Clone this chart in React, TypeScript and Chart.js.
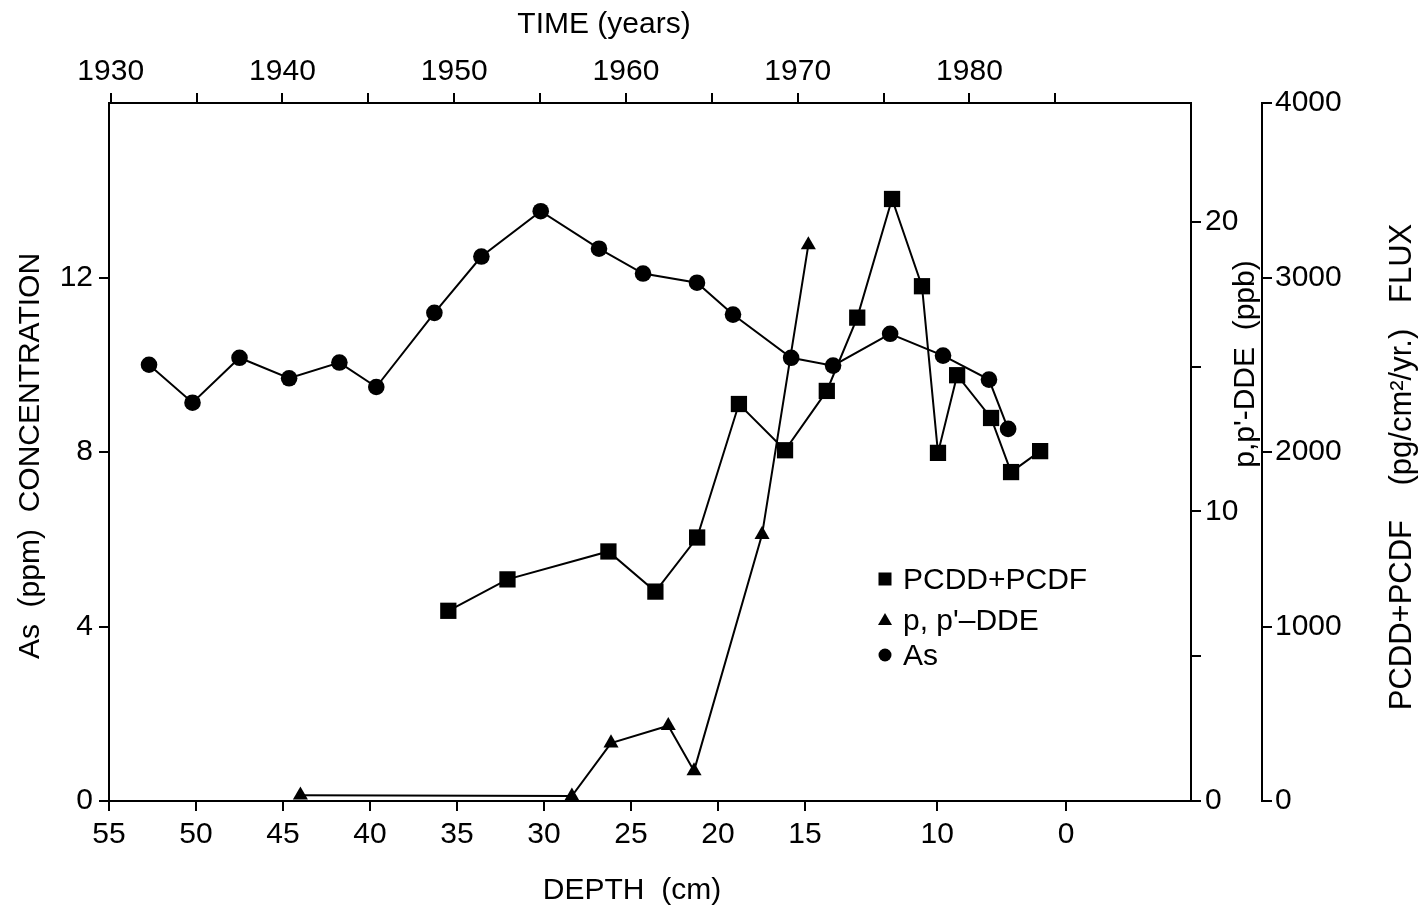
import { useEffect, useRef } from 'react';
import { Chart, registerables } from 'chart.js';

Chart.register(...registerables);

const FONT = '"Liberation Sans", Arial, Helvetica, sans-serif';

// PCDD+PCDF flux (pg/cm²/yr) against depth (cm)
const PCDD_DEPTH = [35.5, 32.1, 26.3, 23.6, 21.2, 18.8, 16.15, 13.75, 12.0, 10.0, 8.28, 7.36, 6.26, 4.31, 3.16, 1.49];
const PCDD_FLUX = [1090, 1270, 1430, 1200, 1510, 2275, 2010, 2350, 2770, 3450, 2950, 1995, 2440, 2195, 1885, 2005];

// p,p'-DDE (ppb) against depth (cm)
const DDE_DEPTH = [44.0, 28.4, 26.15, 22.86, 21.38, 17.47, 14.81];
const DDE_PPB = [0.2, 0.17, 2.0, 2.6, 1.04, 9.2, 19.2];

// As (ppm) against depth (cm)
const AS_DEPTH = [52.7, 50.2, 47.5, 44.65, 41.76, 39.64, 36.3, 33.6, 30.19, 26.84, 24.31, 21.21, 19.14, 15.8, 13.39, 10.11, 7.07, 4.43, 3.33];
const AS_PPM = [10.0, 9.13, 10.16, 9.69, 10.05, 9.49, 11.19, 12.48, 13.52, 12.66, 12.09, 11.88, 11.15, 10.16, 9.98, 10.71, 10.21, 9.66, 8.53];

// Axis ticks
const DEPTH_TICKS = [55, 50, 45, 40, 35, 30, 25, 20, 15, 7.4, 0];
const DEPTH_TICK_LABELS = ['55', '50', '45', '40', '35', '30', '25', '20', '15', '10', '0'];
const YEAR_TICKS = [1930, 1935, 1940, 1945, 1950, 1955, 1960, 1965, 1970, 1975, 1980, 1985];
const YEAR_TICK_LABELS = ['1930', '', '1940', '', '1950', '', '1960', '', '1970', '', '1980', ''];
const AS_TICKS = [0, 4, 8, 12];
const DDE_TICKS = [0, 5, 10, 15, 20];
const DDE_TICK_LABELS = ['0', '', '10', '', '20'];
const FLUX_TICKS = [0, 1000, 2000, 3000, 4000];

const TIME_TITLE = 'TIME (years)';
const DEPTH_TITLE = 'DEPTH  (cm)';
const AS_TITLE = 'As  (ppm)  CONCENTRATION';
const DDE_TITLE = "p,p'-DDE  (ppb)";
const FLUX_TITLE = 'PCDD+PCDF    (pg/cm²/yr.)   FLUX';

const SERIES_LABELS = ['PCDD+PCDF', "p, p'–DDE", 'As'];

const overlay = {
  id: 'overlay',
  afterDraw(chart: any) {
    const { ctx, chartArea: a } = chart;
    ctx.save();
    ctx.fillStyle = '#000';
    ctx.font = `30px ${FONT}`;
    ctx.textAlign = 'center';
    ctx.textBaseline = 'middle';
    ctx.fillText(TIME_TITLE, 604, 25);
    ctx.fillText(DEPTH_TITLE, 632, 891);
    const vt = (t: string, x: number, y: number) => {
      ctx.save();
      ctx.translate(x, y);
      ctx.rotate(-Math.PI / 2);
      ctx.fillText(t, 0, 0);
      ctx.restore();
    };
    vt(AS_TITLE, 31, 456);
    vt(DDE_TITLE, a.right + 55, 364);
    ctx.font = `31px ${FONT}`;
    vt(FLUX_TITLE, a.right + 211, 467);

    // legend
    const lx = 885;
    const rows = [579, 620, 655];
    ctx.textAlign = 'left';
    ctx.font = `30px ${FONT}`;
    rows.forEach((y, i) => {
      ctx.beginPath();
      if (i === 0) {
        ctx.rect(lx - 6.5, y - 6.5, 13, 13);
      } else if (i === 1) {
        ctx.moveTo(lx, y - 7);
        ctx.lineTo(lx + 7, y + 5);
        ctx.lineTo(lx - 7, y + 5);
        ctx.closePath();
      } else {
        ctx.arc(lx, y, 6.5, 0, Math.PI * 2);
      }
      ctx.fill();
      ctx.fillText(SERIES_LABELS[i], 903, y + 2);
    });
    ctx.restore();
  },
};

const axisBase = (tickLen: number) => ({
  grid: { display: true, drawOnChartArea: false, drawTicks: true, tickLength: tickLen, color: '#000', lineWidth: 2 },
  border: { display: true, color: '#000', width: 2 },
});

export default function App() {
  const ref = useRef<HTMLCanvasElement | null>(null);

  useEffect(() => {
    if (!ref.current) return;
    const pts = (xs: number[], ys: number[]) => xs.map((x, i) => ({ x, y: ys[i] }));
    const common = {
      borderColor: '#000',
      backgroundColor: '#000',
      pointBackgroundColor: '#000',
      pointBorderColor: '#000',
      pointBorderWidth: 0,
      borderWidth: 2,
      tension: 0,
      fill: false,
      showLine: true,
      clip: false as any,
    };
    const chart = new Chart(ref.current, {
      type: 'line',
      data: {
        datasets: [
          { ...common, label: SERIES_LABELS[0], data: pts(PCDD_DEPTH, PCDD_FLUX), xAxisID: 'x', yAxisID: 'yFlux', pointStyle: 'rect', pointRadius: 11.5 },
          { ...common, label: SERIES_LABELS[1], data: pts(DDE_DEPTH, DDE_PPB), xAxisID: 'x', yAxisID: 'yDde', pointStyle: 'triangle', pointRadius: 8.7 },
          { ...common, label: SERIES_LABELS[2], data: pts(AS_DEPTH, AS_PPM), xAxisID: 'x', yAxisID: 'y', pointStyle: 'circle', pointRadius: 8.3 },
        ],
      },
      options: {
        animation: false,
        responsive: false,
        devicePixelRatio: 1,
        layout: { padding: 0 },
        plugins: { legend: { display: false }, tooltip: { enabled: false }, title: { display: false } },
        scales: {
          x: {
            type: 'linear',
            position: 'bottom',
            reverse: true,
            min: -7.18,
            max: 55,
            ...axisBase(10),
            afterBuildTicks: (s: any) => { s.ticks = DEPTH_TICKS.map((v) => ({ value: v })); },
            afterFit: (s: any) => { s.height = 109; },
            ticks: {
              autoSkip: false, maxRotation: 0, minRotation: 0, padding: 6, color: '#000',
              font: { family: FONT, size: 30 },
              callback: (v: any) => DEPTH_TICK_LABELS[DEPTH_TICKS.indexOf(Number(v))] ?? '',
            },
          },
          xTime: {
            type: 'linear',
            position: 'top',
            min: 1929.9,
            max: 1992.9,
            ...axisBase(10),
            afterBuildTicks: (s: any) => { s.ticks = YEAR_TICKS.map((v) => ({ value: v })); },
            afterFit: (s: any) => { s.height = 103; },
            ticks: {
              autoSkip: false, maxRotation: 0, minRotation: 0, padding: 3, color: '#000',
              font: { family: FONT, size: 30 },
              callback: (v: any) => YEAR_TICK_LABELS[YEAR_TICKS.indexOf(Number(v))] ?? '',
            },
          },
          y: {
            type: 'linear',
            position: 'left',
            min: 0,
            max: 16,
            ...axisBase(10),
            afterBuildTicks: (s: any) => { s.ticks = AS_TICKS.map((v) => ({ value: v })); },
            afterFit: (s: any) => { s.width = 109; },
            ticks: {
              autoSkip: false, padding: 6, color: '#000',
              font: { family: FONT, size: 30 },
              callback: (v: any) => String(v),
            },
          },
          yDde: {
            type: 'linear',
            position: 'right',
            weight: 0,
            min: 0,
            max: 24.1,
            ...axisBase(10),
            afterBuildTicks: (s: any) => { s.ticks = DDE_TICKS.map((v) => ({ value: v })); },
            afterFit: (s: any) => { s.width = 71; },
            ticks: {
              autoSkip: false, padding: 4, color: '#000',
              font: { family: FONT, size: 30 },
              callback: (v: any) => DDE_TICK_LABELS[DDE_TICKS.indexOf(Number(v))] ?? '',
            },
          },
          yFlux: {
            type: 'linear',
            position: 'right',
            weight: 1,
            min: 0,
            max: 4000,
            ...axisBase(10),
            afterBuildTicks: (s: any) => { s.ticks = FLUX_TICKS.map((v) => ({ value: v })); },
            afterFit: (s: any) => { s.width = 164; },
            ticks: {
              autoSkip: false, padding: 3, color: '#000',
              font: { family: FONT, size: 30 },
              callback: (v: any) => String(v),
            },
          },
        },
      } as any,
      plugins: [overlay],
    });
    return () => chart.destroy();
  }, []);

  return (
    <div style={{ position: 'absolute', left: 0, top: 0, width: 1426, height: 910, background: '#fff' }}>
      <canvas ref={ref} width={1426} height={910} style={{ display: 'block' }} />
    </div>
  );
}
